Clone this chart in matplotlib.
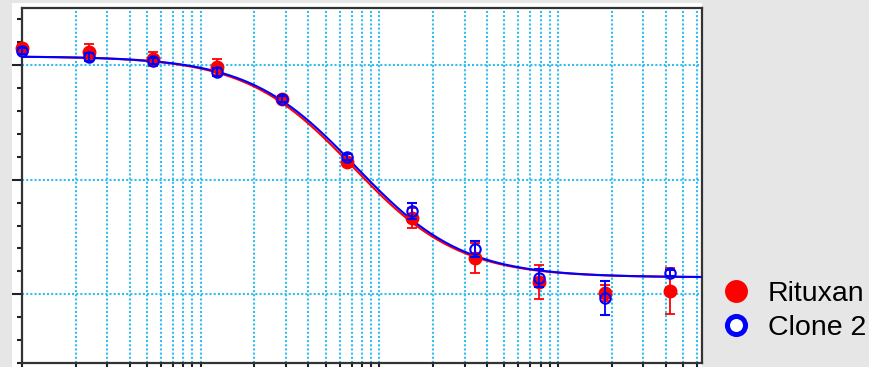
import numpy as np
import matplotlib
matplotlib.use("Agg")
import matplotlib.pyplot as plt
from matplotlib.lines import Line2D
from matplotlib.patches import Rectangle
from matplotlib.ticker import MultipleLocator, LogLocator, NullFormatter

# concentrations (log axis, arbitrary units)
conc = [1.0, 2.37, 5.4, 12.3, 28.5, 66, 152, 343, 783, 1830, 4230]

# measured responses
rituxan_y = [1.574, 1.557, 1.526, 1.491, 1.352, 1.076, 0.832, 0.657, 0.552, 0.504, 0.513]
rituxan_err = [0.02, 0.035, 0.03, 0.035, 0.013, 0.017, 0.044, 0.065, 0.074, 0.035, 0.10]
clone2_y = [1.561, 1.535, 1.517, 1.469, 1.352, 1.098, 0.862, 0.697, 0.570, 0.483, 0.592]
clone2_err = [0.013, 0.017, 0.013, 0.017, 0.013, 0.013, 0.035, 0.035, 0.04, 0.075, 0.013]

# 4PL fit parameters (top, bottom, ec50, hill)
rituxan_fit = (1.539, 0.574, 71, 1.45)
clone2_fit = (1.539, 0.574, 74, 1.45)

RED = "#ff0000"
BLUE = "#0000ff"
GRID = "#35bdf0"


def four_pl(x, top, bottom, ec50, hill):
    return bottom + (top - bottom) / (1 + (x / ec50) ** hill)


fig = plt.figure(figsize=(8.7, 3.67), dpi=100, facecolor="#e6e6e6")
W, H = 870, 367

# white panel behind the plot
fig.patches.append(Rectangle((12 / W, 0), (702 - 12) / W, (367 - 3) / H,
                             transform=fig.transFigure, facecolor="white",
                             edgecolor="none", zorder=-5))

ax = fig.add_axes([22 / W, (367 - 363) / H, (702 - 22) / W, (363 - 8) / H])
ax.set_facecolor("white")
ax.set_xscale("log")
ax.set_xlim(1, 6400)
ax.set_ylim(0.2, 1.75)

ax.yaxis.set_major_locator(MultipleLocator(0.5))
ax.yaxis.set_minor_locator(MultipleLocator(0.1))
ax.xaxis.set_major_locator(LogLocator(base=10))
ax.xaxis.set_minor_locator(LogLocator(base=10, subs=np.arange(2, 10)))
ax.xaxis.set_minor_formatter(NullFormatter())
ax.tick_params(labelleft=False, labelbottom=False)
ax.tick_params(axis="y", which="major", length=7, width=1.5, color="#222222")
ax.tick_params(axis="y", which="minor", length=3.5, width=1.5, color="#222222")
ax.tick_params(axis="x", which="both", length=7, width=1.5, color="#222222")

ax.grid(True, axis="x", which="both", color=GRID, linestyle=(0, (1, 1)), linewidth=1.5)
ax.grid(True, axis="y", which="major", color=GRID, linestyle=(0, (1, 1)), linewidth=1.5)
ax.set_axisbelow(True)

for s in ax.spines.values():
    s.set_color("#333333")
    s.set_linewidth(1.6)

xs = np.geomspace(1, 6400, 300)
ax.plot(xs, four_pl(xs, *rituxan_fit), color=RED, lw=1.5, zorder=3)
ax.plot(xs, four_pl(xs, *clone2_fit), color=BLUE, lw=1.5, zorder=4)

ax.errorbar(conc, rituxan_y, yerr=rituxan_err, fmt="o", color=RED, ms=9,
            mec=RED, mfc=RED, elinewidth=1.3, capsize=3.5, capthick=1.3,
            zorder=5, clip_on=False)
ax.errorbar(conc, clone2_y, yerr=clone2_err, fmt="o", color=BLUE, ms=7.5,
            mec=BLUE, mfc="none", mew=1.5, elinewidth=1.3, capsize=3.5,
            capthick=1.3, zorder=6, clip_on=False)

handles = [
    Line2D([], [], marker="o", ls="none", ms=16.5, mfc=RED, mec=RED, mew=0),
    Line2D([], [], marker="o", ls="none", ms=13, mfc="white", mec=BLUE, mew=3.6),
]
fig.legend(handles, ["Rituxan", "Clone 2"], loc="center left",
           bbox_to_anchor=(722 / W, 1 - 311 / H), frameon=False,
           prop={"family": "Liberation Sans", "size": 20.5},
           handlelength=1.0, handletextpad=0.6, labelspacing=0.28,
           borderpad=0, borderaxespad=0)

fig.savefig("out.png", dpi=100, facecolor=fig.get_facecolor())
